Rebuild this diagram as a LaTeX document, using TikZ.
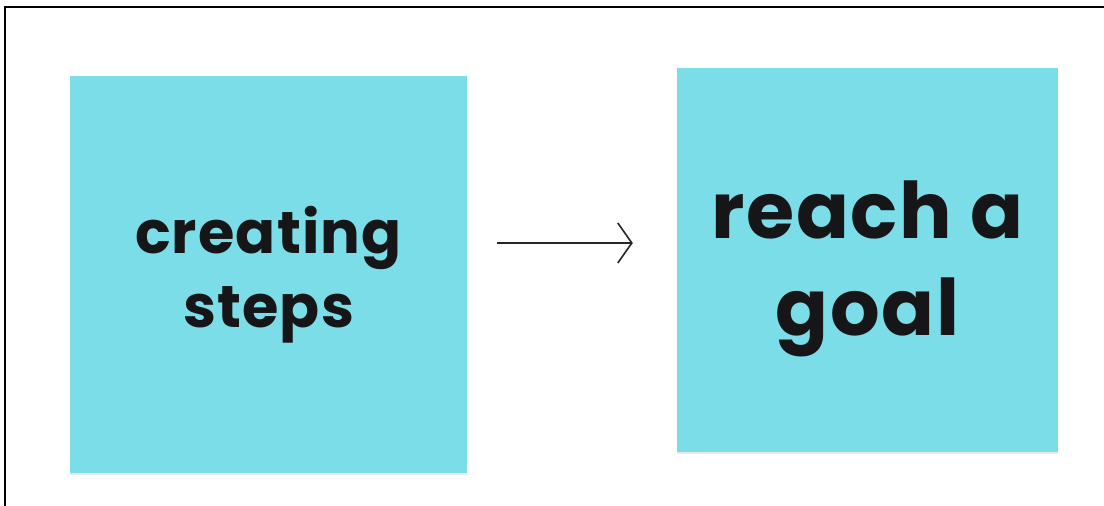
\documentclass[tikz,border=0pt]{standalone}
\usepackage{fontspec}
\setmainfont{Poppins}[LetterSpace=2]
\usepackage{xcolor}
\usetikzlibrary{arrows.meta, positioning, shadows}
\definecolor{stickyblue}{RGB}{123,221,232}
\definecolor{inkblack}{RGB}{22,22,24}
\tikzset{
    sticky/.style={rectangle, fill=stickyblue, draw=none, align=center, text=inkblack,
        drop shadow={opacity=0.18, shadow xshift=0pt, shadow yshift=-2.5pt}},
    line/.style={draw=black!85, line width=1.6pt, -{Straight Barb[length=14pt, width=40pt, line width=1.6pt]}},
    frame/.style={draw=black, line width=2.6pt}
}

\begin{document}
\begin{tikzpicture}[x=1pt, y=1pt]
    \useasboundingbox (0,0) rectangle (1104,506);
    \fill [white] (0,0) rectangle (1104,506);
    \draw [frame] (5,-10) -- (5,499) -- (1120,499);

    \node [sticky, minimum width=397pt, minimum height=397pt,
           font={\bfseries\fontsize{59}{74}\selectfont}] (Steps) at (268.5,231.5)
        {creating\\steps};
    \node [sticky, minimum width=381pt, minimum height=384pt,
           font={\bfseries\fontsize{78}{97}\selectfont}] (Goal) at (867.5,246)
        {\rule{0pt}{76pt}reach a\\goal};

    \coordinate (ArrowLevel) at (0,263);
    \draw [line, shorten <=30pt, shorten >=44pt] (Steps.east |- ArrowLevel) -- (Goal.west |- ArrowLevel);
\end{tikzpicture}
\end{document}
